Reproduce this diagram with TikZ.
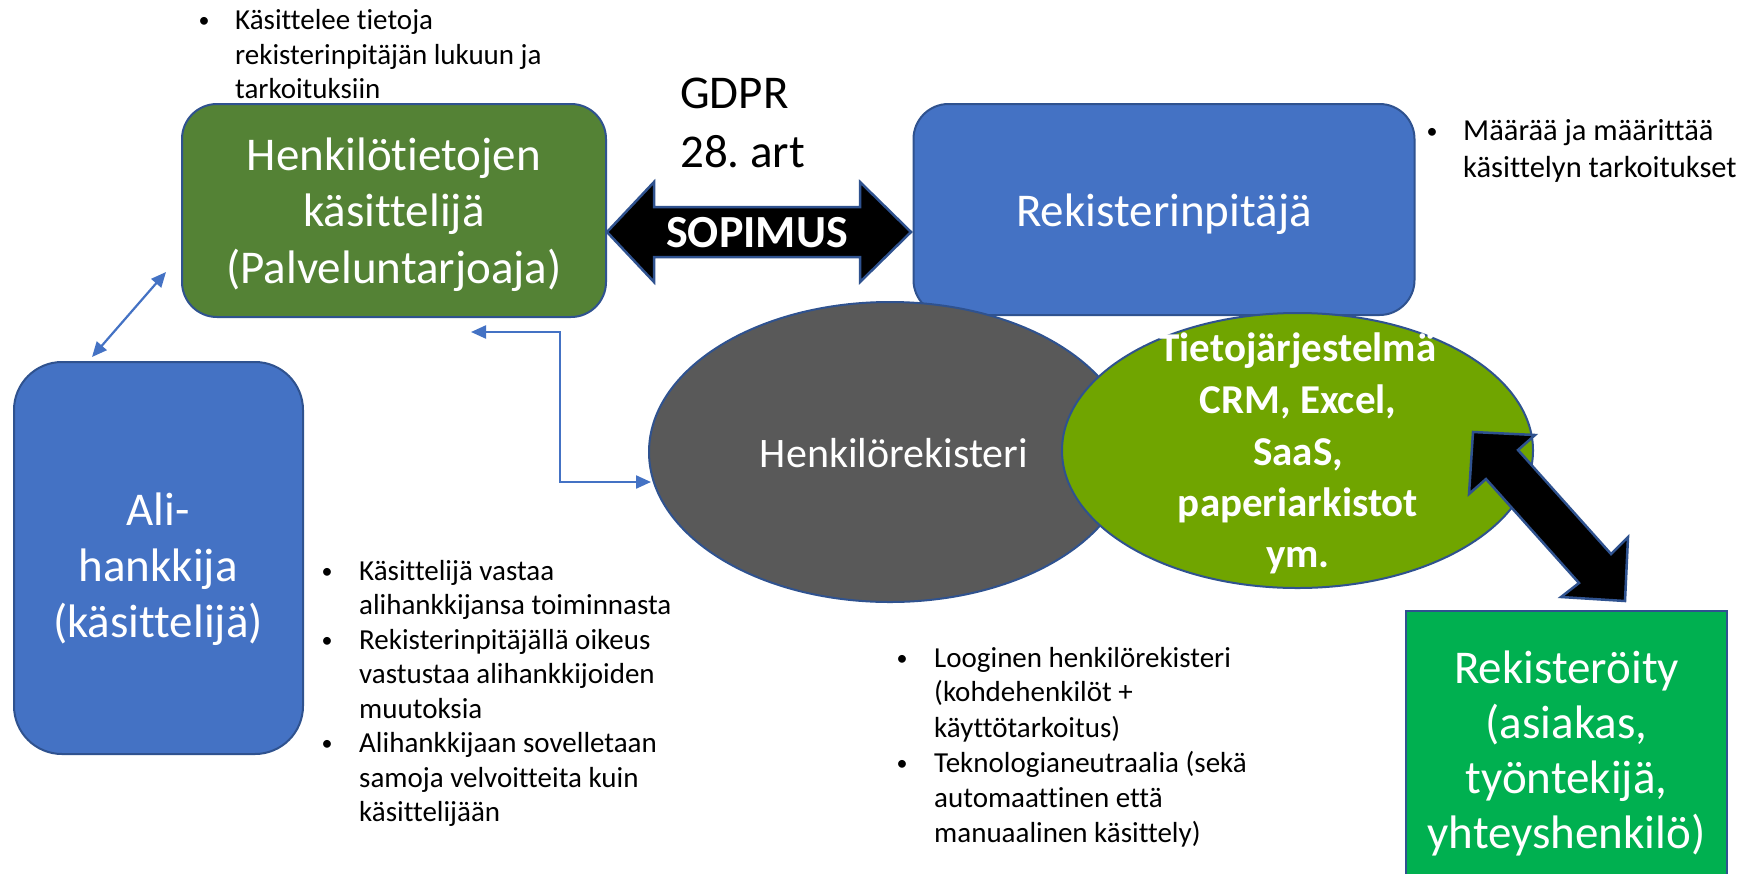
\documentclass[tikz,border=0pt]{standalone}
\usepackage{fontspec}
\setmainfont{Carlito}[Ligatures={NoCommon}]
\usetikzlibrary{shapes.geometric,arrows.meta}
\definecolor{procgreen}{HTML}{548235}
\definecolor{accblue}{HTML}{4472C4}
\definecolor{edgeblue}{HTML}{2F528F}
\definecolor{greyreg}{HTML}{595959}
\definecolor{sysgreen}{RGB}{112,165,0}
\definecolor{subjgreen}{HTML}{00B050}
\frenchspacing
\begin{document}
\begin{tikzpicture}[x=1pt,y=-1pt,
  rbox/.style={draw=edgeblue, line width=2pt, rounded corners=35pt, inner sep=0},
  bxt/.style={font=\fontsize{47}{57}\selectfont, text=white, anchor=base, inner sep=0},
  syt/.style={font=\bfseries\fontsize{41}{51}\selectfont, text=white, anchor=base, inner sep=0},
  blockarrow/.style={fill=black, draw=edgeblue, line width=2.5pt, line join=miter},
  thinarrow/.style={draw=accblue, line width=2.2pt, {Triangle[length=15pt,width=13pt]}-{Triangle[length=15pt,width=13pt]}},
  bt/.style={font=\fontsize{29}{34}\selectfont, anchor=base west, inner sep=0},
  btr/.style={font=\fontsize{30.5}{37}\selectfont, anchor=base west, inner sep=0},
  bul/.style={font=\fontsize{22}{26}\selectfont, anchor=base, inner sep=0, yshift=2pt}
]
\path[use as bounding box] (0,0) rectangle (1755,873);
\clip (0,0) rectangle (1755,873);
\fill[white] (0,0) rectangle (1755,873);

% boxes
\node[rbox, fill=procgreen, minimum width=424pt, minimum height=213pt] (proc) at (394,210.5) {};
\node[bxt] (proc1) at (394,170) {Henkilötietojen};
\node[bxt] (proc2) at (394,226.5) {käsittelijä};
\node[bxt] (proc3) at (394,283) {(Palveluntarjoaja)};

\node[rbox, fill=accblue, minimum width=501pt, minimum height=211pt] (ctrl) at (1164,209.5) {};
\node[bxt] (ctrl1) at (1164,226) {Rekisterinpitäjä};

\node[rbox, fill=accblue, rounded corners=48pt, minimum width=289pt, minimum height=392pt] (sub) at (158.5,558) {};
\node[bxt] (sub1) at (158,525) {Ali-};
\node[bxt] (sub2) at (158,581) {hankkija};
\node[bxt] (sub3) at (158,637) {(käsittelijä)};

% ellipses
\node[ellipse, draw=edgeblue, line width=2pt, fill=greyreg, minimum width=482pt, minimum height=300pt,
  inner sep=0] (reg) at (890,452) {};
\node[font=\fontsize{42}{50}\selectfont, text=white, anchor=base, inner sep=0] (reg1) at (894,467) {Henkilörekisteri};
\node[ellipse, draw=edgeblue, line width=2pt, fill=sysgreen, minimum width=471pt, minimum height=275pt,
  inner sep=0] (sys) at (1297.5,450.5) {};
\node[syt] (sys1) at (1298,361) {Tietojärjestelmä};
\node[syt] (sys2) at (1298,413) {CRM, Excel,};
\node[syt] (sys3) at (1298,465) {SaaS,};
\node[syt] (sys4) at (1298,516) {paperiarkistot};
\node[syt] (sys5) at (1298,567) {ym.};

% registered box
\node[draw=edgeblue, line width=2pt, fill=subjgreen, minimum width=321pt, minimum height=287pt,
  inner sep=0] (subj) at (1566.5,754.5) {};
\node[bxt] (subj1) at (1566.5,683) {Rekisteröity};
\node[bxt] (subj2) at (1566.5,738) {(asiakas,};
\node[bxt] (subj3) at (1566.5,793) {työntekijä,};
\node[bxt] (subj4) at (1566.5,848) {yhteyshenkilö)};

% SOPIMUS block arrow
\draw[blockarrow] (607,232) -- (654,182) -- (654,207) -- (860,207) -- (860,182) -- (911,232)
  -- (860,282) -- (860,257) -- (654,257) -- (654,282) -- cycle;
\node[font=\bfseries\fontsize{46}{50}\selectfont, text=white, anchor=base, inner sep=0] (sop) at (757,247) {SOPIMUS};

% diagonal block arrow
\draw[blockarrow] (1473,432) -- (1535,435) -- (1518,450) -- (1611,554) -- (1628,537) -- (1625,601)
  -- (1561,597) -- (1579,583) -- (1486,479) -- (1469,494) -- cycle;

% GDPR
\node[font=\fontsize{47}{57}\selectfont, anchor=base west, inner sep=0] (gdpr1) at (680,108) {GDPR};
\node[font=\fontsize{47}{57}\selectfont, anchor=base west, inner sep=0] (gdpr2) at (680,167) {28. art};

% thin arrows
\coordinate (a1) at (92,357);
\coordinate (a2) at (166,272);
\draw[thinarrow] (a1) -- (a2);
\coordinate (c1) at (471,332);
\coordinate (c3) at (651,482);
\draw[thinarrow] (c1) -- (560,332) |- (c3);

% top bullet
\node[bul] (tb1) at (204,29) {•};
\node[bt] (tl1) at (235,29) {Käsittelee tietoja};
\node[bt] (tl2) at (235,64) {rekisterinpitäjän lukuun ja};
\node[bt] (tl3) at (235,98.5) {tarkoituksiin};

% right bullet
\node[bul] (rb1) at (1432,140) {•};
\node[btr] (rl1) at (1463,140) {Määrää ja määrittää};
\node[btr] (rl2) at (1463,177) {käsittelyn tarkoitukset};

% middle bullets
\node[bul] (mb1) at (327,580) {•};
\node[bul] (mb2) at (327,649) {•};
\node[bul] (mb3) at (327,752.5) {•};
\node[bt] (ml1) at (359,580) {Käsittelijä vastaa};
\node[bt] (ml2) at (359,614.5) {alihankkijansa toiminnasta};
\node[bt] (ml3) at (359,649) {Rekisterinpitäjällä oikeus};
\node[bt] (ml4) at (359,683.5) {vastustaa alihankkijoiden};
\node[bt] (ml5) at (359,718) {muutoksia};
\node[bt] (ml6) at (359,752.5) {Alihankkijaan sovelletaan};
\node[bt] (ml7) at (359,787) {samoja velvoitteita kuin};
\node[bt] (ml8) at (359,821.5) {käsittelijään};

% bottom bullets
\node[bul] (bb1) at (902,667) {•};
\node[bul] (bb2) at (902,772) {•};
\node[bt] (bl1) at (934,667) {Looginen henkilörekisteri};
\node[bt] (bl2) at (934,701) {(kohdehenkilöt +};
\node[bt] (bl3) at (934,737) {käyttötarkoitus)};
\node[bt] (bl4) at (934,772) {Teknologianeutraalia (sekä};
\node[bt] (bl5) at (934,807) {automaattinen että};
\node[bt] (bl6) at (934,842) {manuaalinen käsittely)};
\end{tikzpicture}
\end{document}
